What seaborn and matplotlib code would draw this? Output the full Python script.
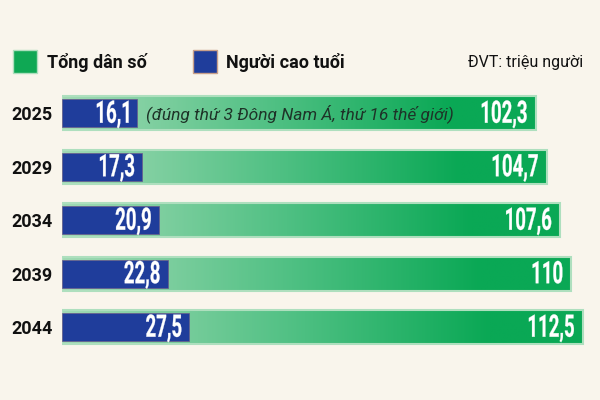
import numpy as np
import pandas as pd
import matplotlib
matplotlib.use("Agg")
import matplotlib.pyplot as plt
import seaborn as sns
from matplotlib.colors import LinearSegmentedColormap
from matplotlib.patches import Rectangle, PathPatch
from matplotlib.textpath import TextPath
from matplotlib.font_manager import FontProperties
from matplotlib.transforms import Affine2D, IdentityTransform

# data
years = ["2025", "2029", "2034", "2039", "2044"]
total_pop = [102.3, 104.7, 107.6, 110, 112.5]
elderly_pop = [16.1, 17.3, 20.9, 22.8, 27.5]
legend_labels = ["Tổng dân số", "Người cao tuổi"]
unit_text = "ĐVT: triệu người"
note_text = "(đúng thứ 3 Đông Nam Á, thứ 16 thế giới)"

df = pd.DataFrame({"year": years, "total": total_pop, "elderly": elderly_pop})

bg = "#f9f5ec"
green = "#0fa854"
blue = "#1f3d9b"

sns.set_theme(style="white")
plt.rcParams["font.family"] = ["Roboto", "DejaVu Sans"]

fig = plt.figure(figsize=(6, 4), dpi=100, facecolor=bg)
ax = fig.add_axes([62 / 600, 30 / 400, 538 / 600, 337 / 400])
ax.set_facecolor(bg)

# green total bars (gradient filled below)
sns.barplot(data=df, x="total", y="year", orient="h", color=green,
            saturation=1, width=0.635, edgecolor="#aedfbe", linewidth=1.5, ax=ax)
green_bars = list(ax.patches)

grad_cmap = LinearSegmentedColormap.from_list(
    "g", [(0, "#a2dab5"), (0.45, "#4fc083"), (0.82, "#0aa855"), (1, "#0aa855")])
grad = np.linspace(0, 1, 256).reshape(1, -1)
for p in green_bars:
    x0, y0, w, h = p.get_x(), p.get_y(), p.get_width(), p.get_height()
    im = ax.imshow(grad, extent=[x0, x0 + w, y0 + h, y0], cmap=grad_cmap,
                   aspect="auto", zorder=0.9, interpolation="bilinear")
    im.set_clip_path(p)
    p.set_facecolor("none")

# blue elderly bars
sns.barplot(data=df, x="elderly", y="year", orient="h", color=blue,
            saturation=1, width=0.52, edgecolor="#6a5a8a", linewidth=0.5,
            ax=ax, zorder=2)

ax.set_xlim(0, 116.2)
ax.set_ylim(4.8, -1.5)

ax.set_xticks([])
ax.set_yticks(range(len(years)))
ax.set_yticklabels(years, fontsize=13, fontweight="bold", color="#111111")
ax.tick_params(axis="y", length=0, pad=7)
ax.set_xlabel("")
ax.set_ylabel("")
sns.despine(ax=ax, left=True, bottom=True)


# condensed white value labels (narrow font drawn as squeezed text path)
num_prop = FontProperties(family="Roboto", weight="bold")


def narrow_label(x, y, s, pad_px=8.5, size_px=31, squeeze=0.6):
    tp = TextPath((0, 0), s, size=size_px, prop=num_prop)
    digits = TextPath((0, 0), "0", size=size_px, prop=num_prop).get_extents()
    bb = tp.get_extents()
    px, py = ax.transData.transform((x, y))
    tr = (Affine2D().translate(-bb.x1, -(digits.y0 + digits.y1) / 2)
          .scale(squeeze, 1).translate(px - pad_px, py + 1.5))
    patch = PathPatch(tr.transform_path(tp), facecolor="white",
                      edgecolor="white", linewidth=0.2,
                      transform=IdentityTransform(), zorder=3)
    fig.add_artist(patch)


for i, (t, e) in enumerate(zip(total_pop, elderly_pop)):
    narrow_label(t, i, f"{t:g}".replace(".", ","), pad_px=9)
    narrow_label(e, i, f"{e:g}".replace(".", ","), pad_px=8)

ax.text(51.4, 0, note_text, ha="center", va="center", style="italic",
        fontsize=12.5, color="#1e3328", zorder=3)

# legend
fig.add_artist(Rectangle((13 / 600, 1 - 73 / 400), 24 / 600, 23 / 400,
                         transform=fig.transFigure, facecolor=green,
                         edgecolor="#aedfbe", linewidth=1))
fig.add_artist(Rectangle((193 / 600, 1 - 73 / 400), 24 / 600, 23 / 400,
                         transform=fig.transFigure, facecolor=blue,
                         edgecolor="#c9a08a", linewidth=1))
fig.text(47 / 600, 1 - 62 / 400, legend_labels[0], fontsize=13,
         fontweight="bold", va="center", color="#111111")
fig.text(226 / 600, 1 - 62 / 400, legend_labels[1], fontsize=13,
         fontweight="bold", va="center", color="#111111")
fig.text(583 / 600, 1 - 62 / 400, unit_text, fontsize=11.5, ha="right",
         va="center", color="#111111")

fig.savefig("out.png", dpi=100, facecolor=bg)
